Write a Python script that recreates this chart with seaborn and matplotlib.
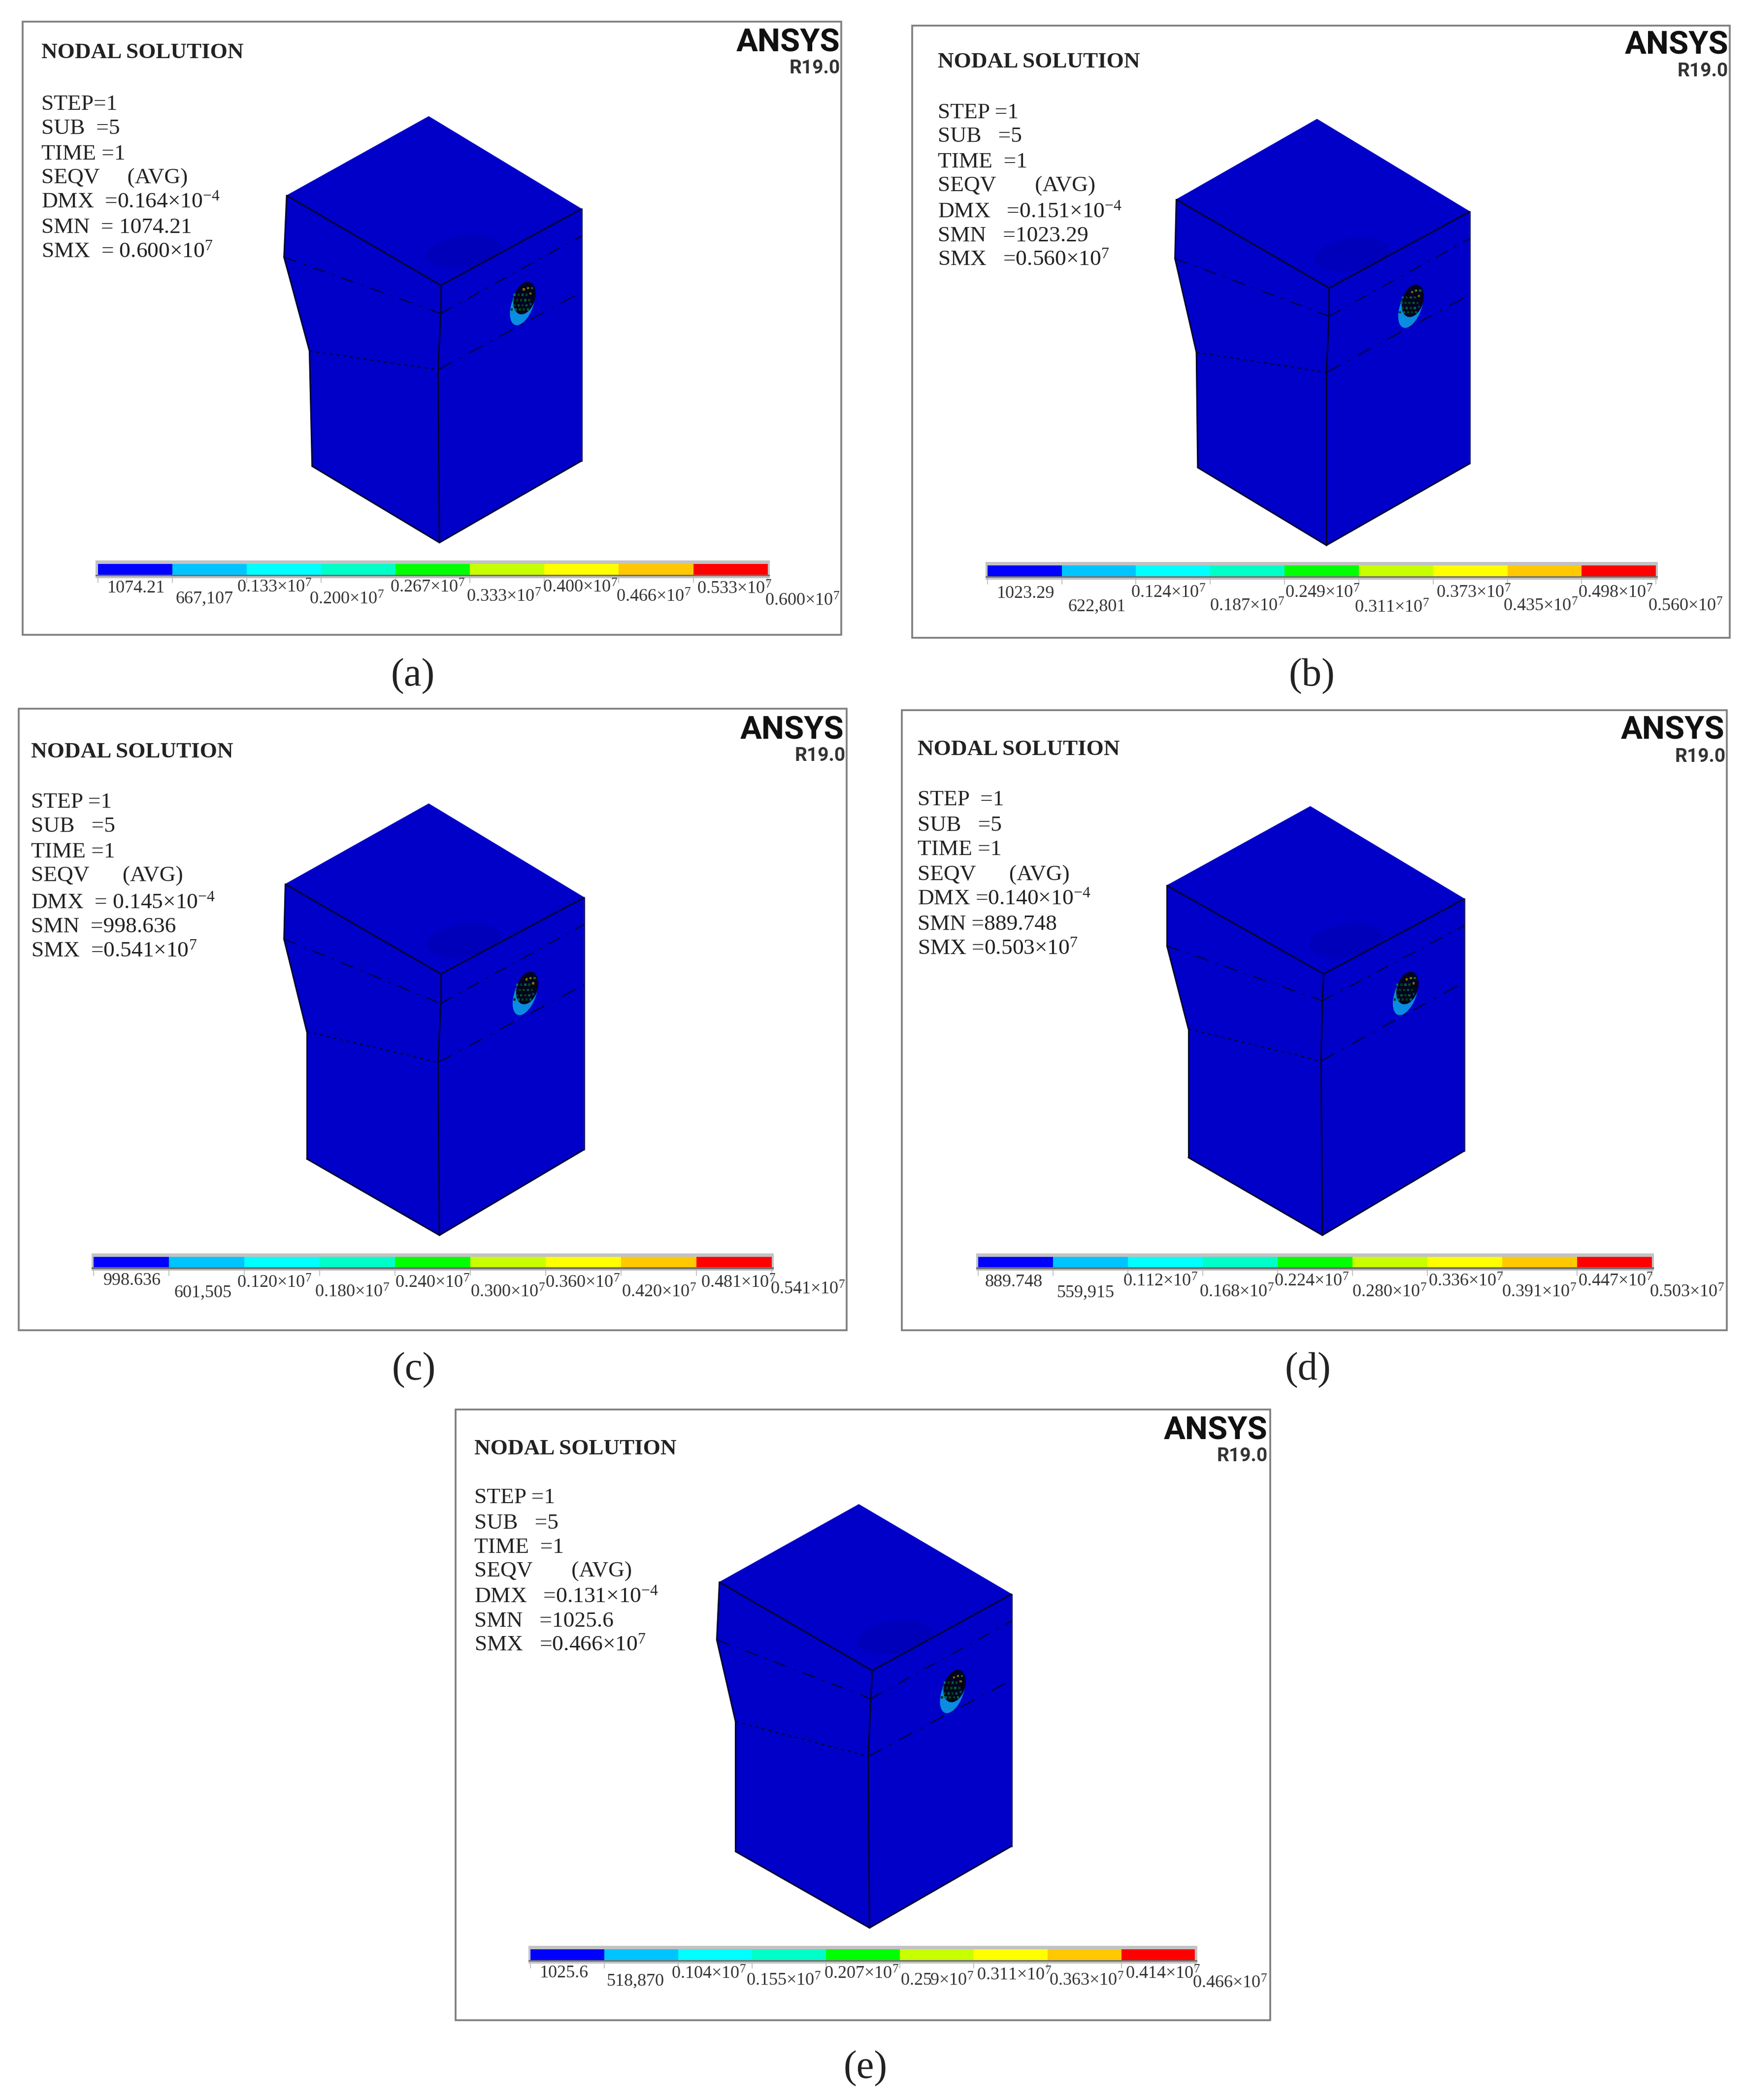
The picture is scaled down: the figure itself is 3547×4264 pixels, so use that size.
import numpy as np
import matplotlib
matplotlib.use("Agg")
import matplotlib.pyplot as plt
from matplotlib.colors import ListedColormap
from matplotlib.patches import Ellipse, Polygon, Rectangle
import seaborn as sns

W, H = 1304.3, 1567.5  # drawing units of the sheet

sns.set_theme(style="white")
plt.rcParams["font.family"] = ["Liberation Serif", "DejaVu Serif"]
plt.rcParams["mathtext.fontset"] = "custom"
plt.rcParams["mathtext.rm"] = "Liberation Serif"
plt.rcParams["mathtext.default"] = "rm"

BAND_COLORS = ["#0000FF", "#00C4FF", "#00FFFF", "#00FFC8", "#00FF00",
               "#C8FF00", "#FFFF00", "#FFC800", "#FF0000"]
BAND_INDEX = [0, 1, 2, 3, 4, 5, 6, 7, 8]
FACE_COLOR = "#0000C8"

CAPTIONS = ["(a)", "(b)", "(c)", "(d)", "(e)"]
CAPTION_XY = [(308, 505), (979, 505), (309, 1023), (976, 1023), (646, 1544)]
FRAMES = [(17, 16, 628, 474), (681, 19, 1291, 476), (14, 529, 632, 993),
          (673, 530, 1289, 993), (340, 1052, 948, 1508)]
ANSYS_XY = [(627, 32), (1290, 34), (630, 545), (1287, 545), (946, 1068)]
R19_XY = [(627, 51), (1290, 53), (631, 564), (1288, 565), (946, 1087)]

TITLE_XY = [(31, 39.5), (700, 46.5), (23, 561.5), (685, 559.5), (354, 1081.5)]
INFO_X = [31, 700, 23, 685, 354]
INFO_Y = [[78, 96, 115, 133, 151, 170, 188],
          [84, 102, 121, 139, 158, 176, 194],
          [599, 617, 636, 654, 674, 692, 710],
          [597, 616, 634, 653, 671, 690, 708],
          [1118, 1137, 1155, 1173, 1192, 1210, 1228]]
INFO_TEXT = [
    ["STEP=1", "SUB  =5", "TIME =1", "SEQV     (AVG)",
     "DMX  =0.164×10$^{-4}$", "SMN  = 1074.21", "SMX  = 0.600×10$^{7}$"],
    ["STEP =1", "SUB   =5", "TIME  =1", "SEQV       (AVG)",
     "DMX   =0.151×10$^{-4}$", "SMN   =1023.29", "SMX   =0.560×10$^{7}$"],
    ["STEP =1", "SUB   =5", "TIME =1", "SEQV      (AVG)",
     "DMX  = 0.145×10$^{-4}$", "SMN  =998.636", "SMX  =0.541×10$^{7}$"],
    ["STEP  =1", "SUB   =5", "TIME =1", "SEQV      (AVG)",
     "DMX =0.140×10$^{-4}$", "SMN =889.748", "SMX =0.503×10$^{7}$"],
    ["STEP =1", "SUB   =5", "TIME  =1", "SEQV       (AVG)",
     "DMX   =0.131×10$^{-4}$", "SMN   =1025.6", "SMX   =0.466×10$^{7}$"],
]

BAR_SPAN = [(73, 573, 421), (737, 1236, 422), (70, 576, 938), (730, 1233, 938), (396, 892, 1455)]
LEGEND_TEXT = [
    ["1074.21", "667,107", "0.133", "0.200", "0.267", "0.333", "0.400", "0.466", "0.533", "0.600"],
    ["1023.29", "622,801", "0.124", "0.187", "0.249", "0.311", "0.373", "0.435", "0.498", "0.560"],
    ["998.636", "601,505", "0.120", "0.180", "0.240", "0.300", "0.360", "0.420", "0.481", "0.541"],
    ["889.748", "559,915", "0.112", "0.168", "0.224", "0.280", "0.336", "0.391", "0.447", "0.503"],
    ["1025.6", "518,870", "0.104", "0.155", "0.207", "0.259", "0.311", "0.363", "0.414", "0.466"],
]
LEGEND_X = [
    [80, 131, 177, 231, 291, 348, 405, 460, 520, 571],
    [744, 797, 844, 903, 959, 1011, 1072, 1122, 1178, 1230],
    [77, 130, 177, 235, 295, 351, 407, 464, 523, 575],
    [735, 789, 838, 895, 951, 1009, 1066, 1121, 1178, 1231],
    [403, 453, 501, 557, 615, 672, 729, 783, 840, 890],
]
LEGEND_Y = [
    [439, 447, 439, 448, 439, 446, 439, 446, 440, 449],
    [443, 453, 443, 453, 443, 454, 443, 453, 443, 453],
    [956, 965, 958, 965, 958, 965, 958, 965, 958, 963],
    [957, 965, 957, 965, 957, 965, 957, 965, 957, 965],
    [1473, 1479, 1474, 1479, 1474, 1479, 1475, 1479, 1474, 1481],
]

APEX = [(320, 87), (983, 89), (320, 600), (978, 602), (641, 1123)]
LEFT = [(214, 146), (878, 149), (213, 660), (871, 661), (537, 1181)]
FRONT = [(329, 213), (992, 215), (329, 727), (988, 727), (651, 1247)]
RIGHT = [(434, 156), (1097, 158), (436, 670), (1093, 671), (755, 1190)]
WAIST_U = [(212, 192), (877, 193), (212, 701), (871, 706), (535, 1224)]
WAIST_L = [(231, 262), (893, 263), (229, 770), (887, 768), (549, 1285)]
BOT_L = [(233, 348), (894, 349), (229, 865), (887, 864), (549, 1382)]
BOTTOM = [(328, 405), (990, 407), (328, 922), (987, 922), (649, 1439)]
BOT_R = [(434, 344), (1097, 346), (436, 858), (1093, 859), (755, 1378)]
FRONT_U = [(329, 234), (992, 236), (329, 749), (987, 747), (650, 1268)]
FRONT_L = [(327, 276), (990, 278), (327, 793), (986, 792), (648, 1311)]
RIGHT_U = [(434, 176), (1097, 178), (436, 690), (1093, 691), (755, 1210)]
RIGHT_L = [(434, 218), (1097, 220), (436, 735), (1093, 733), (755, 1254)]
HOLE = [(390, 227), (1053, 229), (392, 742), (1049, 742), (711, 1263)]
HOLE_DOT_DX = [-6, -3, 0, 3, 6, -7, -4, -1, 2, 5, -6, -3, 0, 3, -8, -5, -2, 1, 4, 1, 4, 7, 6]
HOLE_DOT_DY = [1, 1, 1, 1, 0, -3, -3, -3, -3, -3, -7, -7, -7, -7, 4, 4, 4, 4, 4, -11, -12, -12, -8]
HOLE_DOT_COLOR = ["#004A14", "#006048", "#003E1C", "#006048", "#003A60", "#006048", "#003E1C",
                  "#004A14", "#006048", "#003E1C", "#007050", "#003E1C", "#006048", "#004A14",
                  "#003E1C", "#006048", "#004A14", "#003E1C", "#006048", "#7A6C00", "#7A7A00",
                  "#00702C", "#7A6C00"]

fig = plt.figure(figsize=(35.48, 42.64), dpi=100, facecolor="white")
ax = fig.add_axes([0, 0, 1, 1])
ax.set_facecolor("white")


def edge(p, q, **kw):
    sns.lineplot(x=[p[0], q[0]], y=[p[1], q[1]], sort=False, estimator=None, errorbar=None,
                 color=kw.pop("color", "#05052A"), linewidth=kw.pop("lw", 2.2), ax=ax,
                 legend=False, zorder=5, **kw)


for i in range(5):
    x0, y0, x1, y1 = FRAMES[i]
    ax.add_patch(Rectangle((x0, y0), x1 - x0, y1 - y0, fill=False, ec="#7d7d7d", lw=2.6, zorder=2))

    outline = [APEX[i], RIGHT[i], BOT_R[i], BOTTOM[i], BOT_L[i], WAIST_L[i], WAIST_U[i], LEFT[i]]
    ax.add_patch(Polygon(outline, closed=True, fc=FACE_COLOR, ec=FACE_COLOR, lw=1, zorder=3))
    fx, fy = FRONT[i]
    ax.add_patch(Ellipse((fx + 17, fy - 25), 56, 24, angle=-8, fc="#0000BA", ec="none", zorder=4))

    edge(LEFT[i], FRONT[i])
    edge(FRONT[i], RIGHT[i])
    edge(LEFT[i], WAIST_U[i])
    edge(WAIST_U[i], WAIST_L[i])
    edge(WAIST_L[i], BOT_L[i])
    edge(BOT_L[i], BOTTOM[i])
    edge(BOTTOM[i], BOT_R[i])
    edge(BOT_R[i], RIGHT[i], color="#1a1a70")
    edge(FRONT[i], FRONT_U[i])
    edge(FRONT_U[i], FRONT_L[i])
    edge(FRONT_L[i], BOTTOM[i])
    edge(WAIST_U[i], FRONT_U[i], lw=1.6, linestyle=(0, (12, 7, 2, 7)))
    edge(FRONT_U[i], RIGHT_U[i], lw=1.6, linestyle=(0, (12, 7, 2, 7)))
    edge(WAIST_L[i], FRONT_L[i], lw=2.0, linestyle=(0, (2, 3)))
    edge(FRONT_L[i], RIGHT_L[i], lw=1.6, linestyle=(0, (14, 8, 2, 8)))

    hx, hy = HOLE[i]
    ax.add_patch(Ellipse((hx, hy), 16, 33, angle=20, fc="#0A8CE0", ec="none", zorder=6))
    ax.add_patch(Ellipse((hx + 1.5, hy - 4.5), 15.5, 25, angle=18, fc="#04041E", ec="none", zorder=7))
    sns.scatterplot(x=[hx + d for d in HOLE_DOT_DX], y=[hy + d for d in HOLE_DOT_DY],
                    c=HOLE_DOT_COLOR, s=10, marker="s", linewidth=0, ax=ax, legend=False, zorder=8)

    bx0, bx1, by = BAR_SPAN[i]
    ax.add_patch(Rectangle((bx0 - 1.5, by - 2.5), bx1 - bx0 + 3, 13, fc="#c2c2c2", ec="none", zorder=2))
    ax.add_patch(Rectangle((bx0 - 1.5, by + 8), bx1 - bx0 + 3, 1.2, fc="#707070", ec="none", zorder=3))
    bar_ax = fig.add_axes([bx0 / W, 1 - (by + 8) / H, (bx1 - bx0) / W, 8 / H])
    sns.heatmap([BAND_INDEX], cmap=ListedColormap(BAND_COLORS), vmin=-0.5, vmax=8.5, cbar=False,
                xticklabels=False, yticklabels=False, ax=bar_ax, linewidths=0)
    bar_ax.set_axis_off()
    for k in range(10):
        tx = bx0 + (bx1 - bx0) * k / 9
        sns.lineplot(x=[tx, tx], y=[by + 10, by + 14], color="#b8b8b8", linewidth=1.2, ax=ax,
                     sort=False, estimator=None, errorbar=None, legend=False)

    for k, lab in enumerate(LEGEND_TEXT[i]):
        s = lab if k < 2 else lab + "×10$^{7}$"
        ax.text(LEGEND_X[i][k], LEGEND_Y[i][k], s, fontsize=26, color="#333333",
                ha="left", va="center", zorder=9)

    ax.text(*TITLE_XY[i], "NODAL SOLUTION", fontsize=32.5, fontweight="bold", color="#222222",
            ha="left", va="center", zorder=9)
    for yy, s in zip(INFO_Y[i], INFO_TEXT[i]):
        ax.text(INFO_X[i], yy, s, fontsize=32.7, color="#222222", ha="left", va="center", zorder=9)

    ax.text(*ANSYS_XY[i], "ANSYS", fontsize=47, fontweight="bold", color="#111111", ha="right", va="center",
            family=["Roboto", "Liberation Sans"], zorder=9)
    ax.text(*R19_XY[i], "R19.0", fontsize=28, fontweight="bold", color="#333333", ha="right", va="center",
            family=["Roboto", "Liberation Sans"], zorder=9)

    ax.text(*CAPTION_XY[i], CAPTIONS[i], fontsize=58, color="#222222", ha="center", va="center", zorder=9)

ax.set_xlim(0, W)
ax.set_ylim(H, 0)
ax.set_axis_off()

fig.savefig("out.png", dpi=100, facecolor="white")
